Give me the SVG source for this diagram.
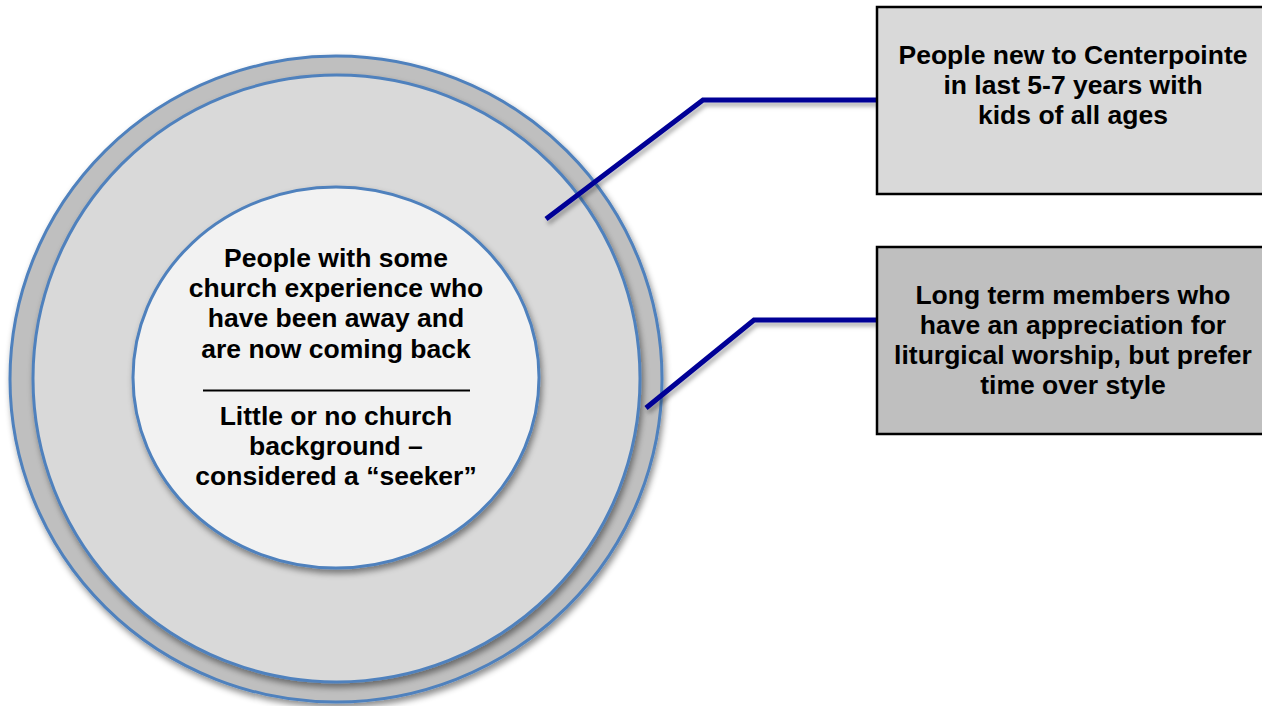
<svg xmlns="http://www.w3.org/2000/svg" width="1262" height="706" viewBox="0 0 1262 706">
<defs>
<filter id="sh" x="-10%" y="-10%" width="130%" height="130%">
<feDropShadow dx="2" dy="4" stdDeviation="3" flood-color="#000" flood-opacity="0.45"/>
</filter>
<filter id="lsh" x="-10%" y="-20%" width="130%" height="160%">
<feDropShadow dx="2" dy="4" stdDeviation="2" flood-color="#000" flood-opacity="0.3"/>
</filter>
</defs>
<style>
.ring{stroke:#4f81bd;stroke-width:3;filter:url(#sh)}
.box{stroke:#000;stroke-width:2.5}
.t{font-family:"Liberation Sans",Arial,Helvetica,sans-serif;font-weight:bold;font-size:26.5px;fill:#000;text-anchor:middle}
.conn{fill:none;stroke:#000096;stroke-width:5;stroke-linejoin:miter;filter:url(#lsh)}
</style>
<g id="outer-ring"><ellipse class="ring" cx="336" cy="379" rx="326" ry="323" fill="#bfbfbf"/></g>
<g id="middle-ring"><ellipse class="ring" cx="336.5" cy="378.5" rx="303.5" ry="303.5" fill="#d9d9d9"/></g>
<g id="inner-circle">
<ellipse class="ring" cx="336" cy="377.5" rx="203" ry="190.5" fill="#f2f2f2"/>
<text class="t" x="336" y="267">People with some</text>
<text class="t" x="336" y="297">church experience who</text>
<text class="t" x="336" y="327">have been away and</text>
<text class="t" x="336" y="358">are now coming back</text>
<line x1="203" y1="390.5" x2="470" y2="390.5" stroke="#000" stroke-width="1.8"/>
<text class="t" x="336" y="425">Little or no church</text>
<text class="t" x="336" y="455">background –</text>
<text class="t" x="336" y="485">considered a “seeker”</text>
</g>
<g id="connectors">
<polyline class="conn" points="546,219 703,100 877,100"/>
<polyline class="conn" points="646,408 754,320 877,320"/>
</g>
<g id="box-new">
<rect class="box" x="877" y="7" width="400" height="187" fill="#d9d9d9"/>
<text class="t" x="1073" y="64">People new to Centerpointe</text>
<text class="t" x="1073" y="94">in last 5-7 years with</text>
<text class="t" x="1073" y="124">kids of all ages</text>
</g>
<g id="box-long">
<rect class="box" x="877" y="247" width="400" height="187" fill="#bfbfbf"/>
<text class="t" x="1073" y="304">Long term members who</text>
<text class="t" x="1073" y="334">have an appreciation for</text>
<text class="t" x="1073" y="364">liturgical worship, but prefer</text>
<text class="t" x="1073" y="394">time over style</text>
</g>
</svg>
